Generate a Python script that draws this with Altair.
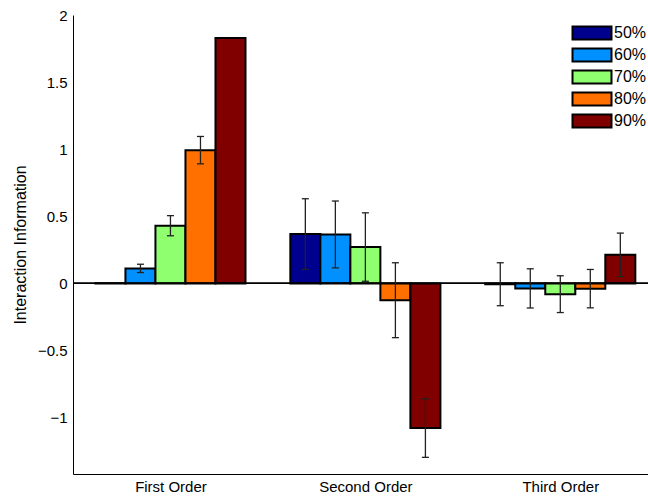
import altair as alt
import pandas as pd

# Categories and series
groups = ["First Order", "Second Order", "Third Order"]
levels = ["50%", "60%", "70%", "80%", "90%"]
colors = ["#00008F", "#0090FF", "#8FFF70", "#FF7000", "#800000"]

# Mean interaction information and error per level, one list per order
first_vals = [0.002, 0.112, 0.430, 0.993, 1.828]
first_err = [0.0, 0.031, 0.075, 0.102, 0.0]
second_vals = [0.368, 0.365, 0.271, -0.125, -1.078]
second_err = [0.263, 0.249, 0.255, 0.279, 0.218]
third_vals = [-0.006, -0.037, -0.080, -0.039, 0.213]
third_err = [0.160, 0.146, 0.137, 0.143, 0.162]

vals = [first_vals, second_vals, third_vals]
errs = [first_err, second_err, third_err]

rows = []
for gi, g in enumerate(groups):
    for si, lev in enumerate(levels):
        rows.append({
            "group": g, "gidx": gi + 1, "sidx": si, "level": lev,
            "value": vals[gi][si], "err": errs[gi][si],
        })
df = pd.DataFrame(rows)

STEP = 0.154      # distance between neighbouring bars inside a group
HALF = STEP / 2   # half a bar width
CAP = 0.018       # half width of an error-bar cap

font = "Liberation Sans"
label_expr = "[" + ",".join(f"'{g}'" for g in groups) + "][datum.value - 1]"

xscale = alt.Scale(domain=[0.5, 3.45], nice=False, zero=False)
yscale = alt.Scale(domain=[-1.42, 2], nice=False, zero=False)

base = alt.Chart(df).transform_calculate(
    xc=f"datum.gidx + (datum.sidx - 2) * {STEP}",
    xl=f"datum.gidx + (datum.sidx - 2) * {STEP} - {HALF}",
    xr=f"datum.gidx + (datum.sidx - 2) * {STEP} + {HALF}",
    capl=f"datum.gidx + (datum.sidx - 2) * {STEP} - {CAP}",
    capr=f"datum.gidx + (datum.sidx - 2) * {STEP} + {CAP}",
    lo="datum.value - datum.err",
    hi="datum.value + datum.err",
)

bars = base.mark_bar(stroke="black", strokeWidth=2).encode(
    x=alt.X("xl:Q", scale=xscale, axis=alt.Axis(
        values=[1, 2, 3], labelExpr=label_expr, title=None, grid=False,
        ticks=False, labelFontSize=15, labelPadding=5, labelColor="black",
        domainColor="black", labelFont=font)),
    x2="xr:Q",
    y=alt.Y("value:Q", scale=yscale, axis=alt.Axis(
        values=[-1, -0.5, 0, 0.5, 1, 1.5, 2], format="~g", grid=False,
        ticks=False, labelFontSize=15, labelPadding=6, labelColor="black",
        domainColor="black", labelFont=font,
        title="Interaction Information", titleFontSize=16,
        titleFontWeight="normal", titleColor="black", titleFont=font,
        titlePadding=9)),
    y2=alt.datum(0),
    color=alt.Color("level:N", scale=alt.Scale(domain=levels, range=colors),
                    legend=alt.Legend(
                        title=None, orient="none", legendX=508, legendY=7,
                        symbolType="M-2,-0.66L2,-0.66L2,0.66L-2,0.66Z",
                        symbolSize=380, symbolStrokeColor="black",
                        symbolStrokeWidth=2, symbolOpacity=1,
                        labelFontSize=16, labelFont=font, labelColor="black",
                        labelOffset=11, rowPadding=0)),
)

zero = alt.Chart(df).mark_rule(color="black", strokeWidth=1).encode(
    y=alt.datum(0, scale=yscale)
)

err_line = base.transform_filter("datum.err > 0").mark_rule(
    color="#222222", strokeWidth=1.3).encode(
    x=alt.X("xc:Q", scale=xscale), y=alt.Y("lo:Q", scale=yscale), y2="hi:Q")

cap_lo = base.transform_filter("datum.err > 0").mark_rule(
    color="#222222", strokeWidth=1.3).encode(
    x=alt.X("capl:Q", scale=xscale), x2="capr:Q",
    y=alt.Y("lo:Q", scale=yscale))

cap_hi = base.transform_filter("datum.err > 0").mark_rule(
    color="#222222", strokeWidth=1.3).encode(
    x=alt.X("capl:Q", scale=xscale), x2="capr:Q",
    y=alt.Y("hi:Q", scale=yscale))

chart = alt.layer(bars, zero, err_line, cap_lo, cap_hi).properties(
    width=575, height=459,
    autosize=alt.AutoSizeParams(type="none"),
    padding={"left": 73, "top": 15, "right": 0, "bottom": 23},
    background="white",
).configure_view(stroke=None)

chart.save("out.html", embed_options={"renderer": "svg", "actions": False})
